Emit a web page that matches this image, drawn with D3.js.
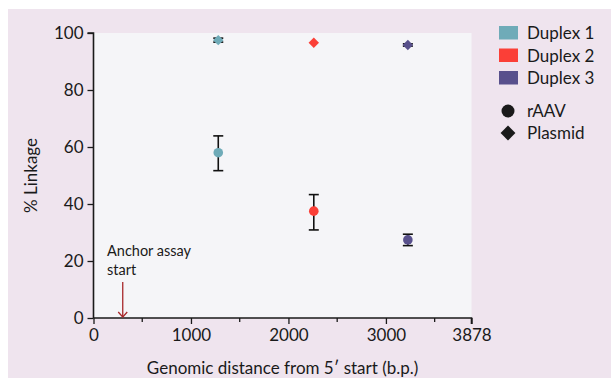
<!DOCTYPE html>
<head>
  <meta charset="utf-8">
  <script src="https://cdn.jsdelivr.net/npm/d3@7"></script>
  <style>
    body { margin: 0; background: #fff; }
    text { font-family: Lato, "Open Sans", sans-serif; fill: #1a1a1a; }
  </style>
</head>
<body>
<svg width="611" height="383"></svg>
<script>
// data
var duplexes = ['Duplex 1', 'Duplex 2', 'Duplex 3']
var position = [1280, 2260, 3225]          // b.p.
var raavMean = [58.0, 37.5, 27.4]
var raavLow  = [51.7, 30.9, 25.4]
var raavHigh = [63.9, 43.3, 29.4]
var plasmidMean = [97.5, 96.6, 95.8]
var plasmidLow  = [96.8, 96.6, 95.4]
var plasmidHigh = [98.2, 96.6, 96.2]
var colors = ['#6fabb8', '#fb3f37', '#58508c']
var xTicks = [0, 1000, 2000, 3000, 3878]
var xMinor = [500, 1500, 2500, 3500]
var yTicks = [0, 20, 40, 60, 80, 100]
var anchorPos = 300

var svg = d3.select('svg')

svg.append('rect')
   .attr('x', 8).attr('y', 9).attr('width', 603).attr('height', 369)
   .attr('fill', '#efe4ee')

var x = d3.scaleLinear().domain([0, 3878]).range([93.5, 471.5])
var y = d3.scaleLinear().domain([0, 100]).range([318, 33])

svg.append('rect')
   .attr('x', x(0)).attr('y', y(100))
   .attr('width', x(3878) - x(0)).attr('height', y(0) - y(100))
   .attr('fill', '#f5f5f8')

// axes
var xAxis = svg.append('g')
   .attr('transform', 'translate(0,' + y(0) + ')')
   .call(d3.axisBottom(x).tickValues(xTicks).tickFormat(d3.format('d')).tickSize(6).tickPadding(5))
xAxis.append('g').selectAll('line').data(xMinor).enter().append('line')
   .attr('x1', x).attr('x2', x).attr('y1', 0).attr('y2', 4)
   .attr('stroke', '#1a1a1a').attr('stroke-width', 1.3)

var yAxis = svg.append('g')
   .attr('transform', 'translate(' + x(0) + ',0)')
   .call(d3.axisLeft(y).tickValues(yTicks).tickSize(6).tickPadding(4))

svg.selectAll('.domain').attr('stroke', '#1a1a1a').attr('stroke-width', 1.6)
svg.selectAll('.tick line').attr('stroke', '#1a1a1a').attr('stroke-width', 1.3)
svg.selectAll('.tick text').style('font-size', '17px').style('font-family', 'Lato, sans-serif').attr('fill', '#1a1a1a')
yAxis.selectAll('.domain').attr('d', 'M0,' + y(100) + 'H0V' + y(0))
yAxis.selectAll('.domain').attr('d', 'M-6,' + y(100) + 'H0V' + y(0))
xAxis.selectAll('.domain').attr('d', 'M' + x(0) + ',0H' + x(3878) + 'V6')

// axis titles
svg.append('text')
   .attr('x', x(1940)).attr('y', 374)
   .attr('text-anchor', 'middle').style('font-size', '17px')
   .text('Genomic distance from 5\u2032 start (b.p.)')

svg.append('text')
   .attr('transform', 'translate(37,' + y(50) + ') rotate(-90)')
   .attr('text-anchor', 'middle').style('font-size', '17px')
   .text('% Linkage')

// anchor annotation
var arrow = svg.append('g').attr('stroke', '#a8282a').attr('stroke-width', 1.3).attr('fill', 'none')
arrow.append('line')
   .attr('x1', x(anchorPos)).attr('x2', x(anchorPos)).attr('y1', 282).attr('y2', y(0) - 1)
arrow.append('path')
   .attr('d', 'M' + (x(anchorPos) - 4.5) + ',' + (y(0) - 6) + 'L' + x(anchorPos) + ',' + (y(0) - 1) + 'L' + (x(anchorPos) + 4.5) + ',' + (y(0) - 6))
svg.append('text').attr('x', 107).attr('y', 256).style('font-size', '14.5px').text('Anchor assay')
svg.append('text').attr('x', 107).attr('y', 275).style('font-size', '14.5px').text('start')

// error bars
function errorBars(low, high) {
  var g = svg.append('g').attr('stroke', '#111').attr('stroke-width', 1.6)
  position.forEach(function (p, i) {
    if (high[i] - low[i] < 0.1) return
    g.append('line').attr('x1', x(p)).attr('x2', x(p)).attr('y1', y(low[i])).attr('y2', y(high[i]))
    g.append('line').attr('x1', x(p) - 5).attr('x2', x(p) + 5).attr('y1', y(low[i])).attr('y2', y(low[i]))
    g.append('line').attr('x1', x(p) - 5).attr('x2', x(p) + 5).attr('y1', y(high[i])).attr('y2', y(high[i]))
  })
}
errorBars(raavLow, raavHigh)
errorBars(plasmidLow, plasmidHigh)

svg.selectAll('.raav').data(raavMean).enter().append('circle')
   .attr('cx', function (d, i) { return x(position[i]) })
   .attr('cy', function (d) { return y(d) })
   .attr('r', 4.8)
   .attr('fill', function (d, i) { return colors[i] })

var diamond = d3.symbol().type(d3.symbolDiamond2).size(70)
svg.selectAll('.plasmid').data(plasmidMean).enter().append('path')
   .attr('d', diamond)
   .attr('transform', function (d, i) { return 'translate(' + x(position[i]) + ',' + y(d) + ')' })
   .attr('fill', function (d, i) { return colors[i] })

// legend
var leg = svg.append('g')
leg.selectAll('rect').data(duplexes).enter().append('rect')
   .attr('x', 499).attr('y', function (d, i) { return 26 + i * 22.5 })
   .attr('width', 19).attr('height', 13.5)
   .attr('fill', function (d, i) { return colors[i] })
leg.selectAll('text').data(duplexes).enter().append('text')
   .attr('x', 527).attr('y', function (d, i) { return 39 + i * 22.5 })
   .style('font-size', '17px')
   .text(function (d) { return d })

leg.append('circle').attr('cx', 508).attr('cy', 111).attr('r', 6.5).attr('fill', '#1a1a1a')
leg.append('path').attr('d', d3.symbol().type(d3.symbolDiamond2).size(140))
   .attr('transform', 'translate(508,133)').attr('fill', '#1a1a1a')
leg.append('text').attr('x', 527).attr('y', 117).style('font-size', '17px').text('rAAV')
leg.append('text').attr('x', 527).attr('y', 139).style('font-size', '17px').text('Plasmid')
</script>
</body>
